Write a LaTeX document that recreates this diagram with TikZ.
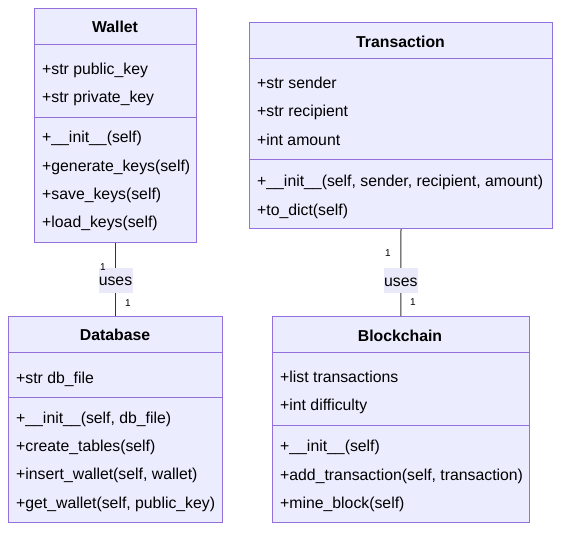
\documentclass[tikz,border=0pt]{standalone}
\usepackage{fontspec}
\setmainfont{Liberation Sans}
\usetikzlibrary{positioning}
\definecolor{classfill}{HTML}{ECECFF}
\definecolor{classline}{HTML}{9370DB}
\definecolor{edgeline}{HTML}{333333}
\definecolor{labelfill}{HTML}{E9E9F9}
\tikzset{
  classbox/.style={draw=classline,fill=classfill,line width=1pt,anchor=north west,inner sep=0pt},
  sepline/.style={draw=classline,line width=1pt},
  member/.style={anchor=west,inner sep=0pt,text height=11.5pt,text depth=0pt,font=\fontsize{15.8}{19}\selectfont},
  classname/.style={inner sep=0pt,text height=11.5pt,text depth=0pt,font=\fontsize{15.8}{19}\selectfont\bfseries},
  relation/.style={draw=edgeline,line width=1pt},
  rellabel/.style={fill=labelfill,minimum width=34pt,minimum height=25pt,inner sep=0pt,text height=11.5pt,text depth=0pt,font=\fontsize{15.8}{19}\selectfont},
  mult/.style={inner sep=0pt,font=\fontsize{10}{12}\selectfont}
}
\begin{document}
\begin{tikzpicture}[x=1pt,y=-1pt]
\useasboundingbox (0,0) rectangle (568,538);
% Wallet
\node[classbox,minimum width=162pt,minimum height=234pt] (wallet) at (34,8) {};
\node[classname] (wallet-name) at (115,27) {Wallet};
\draw[sepline] (34,44)--(196,44);
\draw[sepline] (34,117)--(196,117);
\foreach \t [count=\i from 0] in {+str public\_key,+str private\_key}{\node[member] (wa\i) at (42,69+28*\i){\t};}
\foreach \t [count=\i from 0] in {+\_\_init\_\_(self),+generate\_keys(self),+save\_keys(self),+load\_keys(self)}{\node[member] (wm\i) at (42,137+28.3*\i){\t};}
% Transaction
\node[classbox,minimum width=303pt,minimum height=206pt] (transaction) at (249,22) {};
\node[classname] (transaction-name) at (400.5,41.5) {Transaction};
\draw[sepline] (249,58.5)--(552,58.5);
\draw[sepline] (249,159.5)--(552,159.5);
\foreach \t [count=\i from 0] in {+str sender,+str recipient,+int amount}{\node[member] (ta\i) at (257,82.7+28.3*\i){\t};}
\foreach \t [count=\i from 0] in {{+\_\_init\_\_(self, sender, recipient, amount)},+to\_dict(self)}{\node[member] (tm\i) at (257,181+28.5*\i){\t};}
% Database
\node[classbox,minimum width=214pt,minimum height=206pt] (database) at (8,316) {};
\node[classname] (database-name) at (115,335) {Database};
\draw[sepline] (8,352.3)--(222,352.3);
\draw[sepline] (8,397.3)--(222,397.3);
\node[member] (da0) at (16,377.3) {+str db\_file};
\foreach \t [count=\i from 0] in {{+\_\_init\_\_(self, db\_file)},+create\_tables(self),{+insert\_wallet(self, wallet)},{+get\_wallet(self, public\_key)}}{\node[member] (dm\i) at (16,417.5+28.3*\i){\t};}
% Blockchain
\node[classbox,minimum width=257.5pt,minimum height=206pt] (blockchain) at (271.5,316) {};
\node[classname] (blockchain-name) at (400,335.5) {Blockchain};
\draw[sepline] (271.5,352)--(529,352);
\draw[sepline] (271.5,425.5)--(529,425.5);
\foreach \t [count=\i from 0] in {+list transactions,+int difficulty}{\node[member] (ba\i) at (280,376.7+28.3*\i){\t};}
\foreach \t [count=\i from 0] in {+\_\_init\_\_(self),{+add\_transaction(self, transaction)},+mine\_block(self)}{\node[member] (bm\i) at (280,446+28.5*\i){\t};}
% relations
\draw[relation] (wallet.south)--(database.north) node[rellabel,pos=.51] (uses1){uses};
\draw[relation] (transaction.south)--(blockchain.north) node[rellabel,pos=.59] (uses2){uses};
\node[mult] (m1a) at (103,267) {1};
\node[mult] (m1b) at (128,303) {1};
\node[mult] (m2a) at (388,253) {1};
\node[mult] (m2b) at (413,302) {1};
\end{tikzpicture}
\end{document}
